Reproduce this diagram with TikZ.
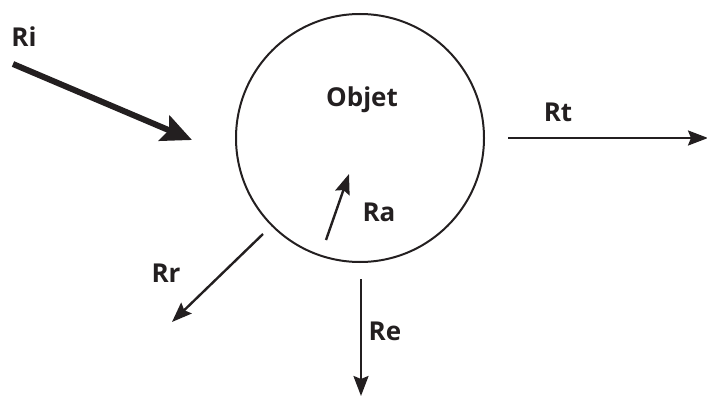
\documentclass[tikz,border=0pt]{standalone}
\usepackage{fontspec}
\setmainfont{Open Sans}
\usetikzlibrary{arrows.meta}
\definecolor{ink}{HTML}{231F20}
\begin{document}
\begin{tikzpicture}[x=1pt,y=-1pt,
  lbl/.style={font=\fontsize{26}{28}\selectfont\bfseries, text=ink, inner sep=0pt},
  thin/.style={draw=ink, line width=2.4pt, -{Stealth[length=20pt,width=15pt,inset=3pt]}},
  thick/.style={draw=ink, line width=6pt, -{Stealth[length=30pt,width=27pt,inset=5pt]}}]
\useasboundingbox (0,0) rectangle (707,396);
\node[draw=ink, circle, line width=2pt, minimum size=248pt, inner sep=0pt] (obj) at (360,138) {};
\node[lbl] (objet) at (362,100) {Objet};
\node[lbl] (ri) at (24,37) {Ri};
\node[lbl] (rt) at (558,112) {Rt};
\node[lbl] (ra) at (379,212) {Ra};
\node[lbl] (rr) at (166,273) {Rr};
\node[lbl] (re) at (385,331) {Re};
\coordinate (ri1) at (13,64);
\coordinate (ri2) at (192,140);
\coordinate (rt1) at (508,138);
\coordinate (rt2) at (708,138);
\coordinate (ra1) at (326,240);
\coordinate (ra2) at (349,174);
\coordinate (rr1) at (263,234);
\coordinate (rr2) at (172,322);
\coordinate (re1) at (361,279);
\coordinate (re2) at (361,396);
\draw[thick] (ri1) -- (ri2);
\draw[thin] (rt1) -- (rt2);
\draw[thin] (ra1) -- (ra2);
\draw[thin] (rr1) -- (rr2);
\draw[thin] (re1) -- (re2);
\end{tikzpicture}
\end{document}
